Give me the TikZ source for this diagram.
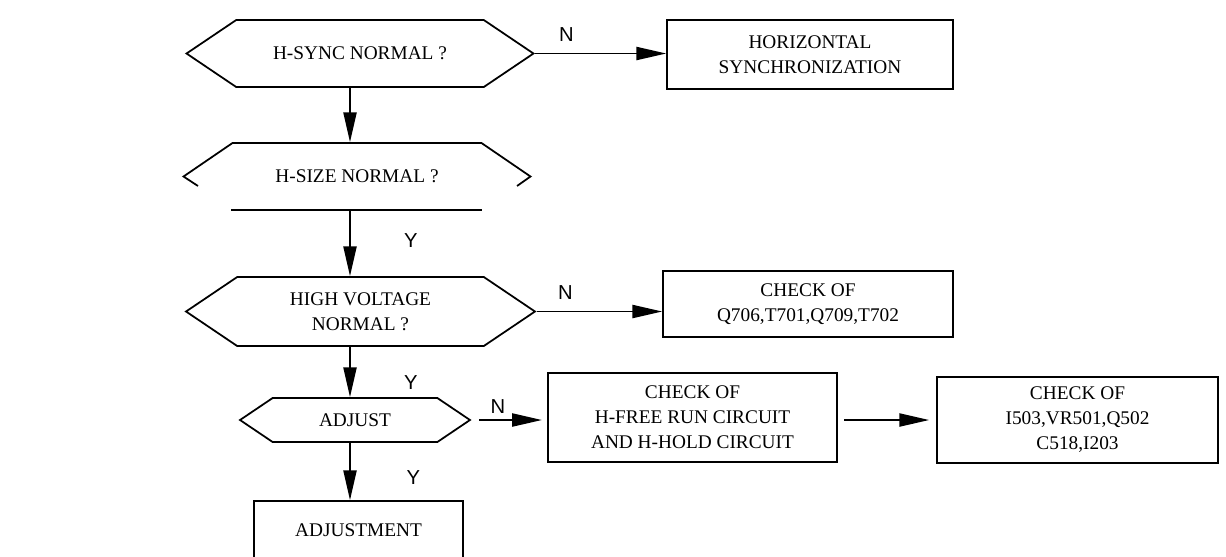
\documentclass[tikz,border=0pt]{standalone}
\usepackage{fontspec}
\setmainfont{Liberation Serif}
\newfontfamily\ynfont{Liberation Sans}
\usetikzlibrary{shapes.symbols, arrows.meta, calc}

\begin{document}
\begin{tikzpicture}[x=0.02cm, y=-0.02cm, >={Triangle[length=17pt, width=7.5pt]},
    query/.style={signal, signal to=east and west, signal pointer angle=68, draw, line width=1pt,
      inner sep=0pt, align=center, font=\fontsize{11}{14.2}\selectfont},
    task/.style={draw, line width=1pt, inner sep=0pt, align=center, font=\fontsize{11}{14.2}\selectfont},
    flow/.style={->, line width=1pt},
    yn/.style={font=\ynfont\fontsize{11.5}{13}\selectfont}]
  \useasboundingbox (0,0) rectangle (1226,556);
  \coordinate (axis) at (350,0);

  \node[query, minimum width=6.94cm, minimum height=1.34cm] (sync) at (360,53.5) {H-SYNC NORMAL ?};
  \node[query, draw=none, minimum width=6.94cm, minimum height=1.34cm] (size) at (357,176.5) {H-SIZE NORMAL ?};
  \node[query, minimum width=6.98cm, minimum height=1.38cm] (hv) at (360.5,311.5) {HIGH VOLTAGE\\NORMAL ?};
  \node[query, minimum width=4.6cm, minimum height=0.88cm] (adj) at (355,420) {ADJUST};

  \node[task, minimum width=5.72cm, minimum height=1.38cm] (hsync) at (810,54.5) {HORIZONTAL\\SYNCHRONIZATION};
  \node[task, minimum width=5.8cm, minimum height=1.32cm] (chk1) at (808,304) {CHECK OF\\Q706,T701,Q709,T702};
  \node[task, minimum width=5.78cm, minimum height=1.78cm] (chk2) at (692.5,417.5) {CHECK OF\\H-FREE RUN CIRCUIT\\AND H-HOLD CIRCUIT};
  \node[task, minimum width=5.62cm, minimum height=1.72cm] (chk3) at (1077.5,420) {CHECK OF\\I503,VR501,Q502\\C518,I203};
  \node[task, minimum width=4.18cm, minimum height=1.16cm] (adjm) at (358.5,530) {ADJUSTMENT};

  % broken outline of the second test
  \draw[line width=1pt] ($(size)+(-159,9.5)$) -- ($(size)+(-173.5,0)$) -- ($(size)+(-124.5,-33.5)$)
    -- ($(size)+(124.5,-33.5)$) -- ($(size)+(173.5,0)$) -- ($(size)+(160,9.5)$);
  \draw[line width=1pt] ($(size)+(-126,33.5)$) -- ($(size)+(125,33.5)$);

  \draw[flow] (sync.east) -- node[yn, pos=0.24, above=3pt] {N} (sync.east -| hsync.west);
  \draw[flow] (sync.south -| axis) -- (size.north -| axis);
  \draw[flow] (size.south -| axis) -- node[yn, pos=0.45, right=0.95cm] {Y} (hv.north -| axis);
  \draw[flow] (hv.east) -- node[yn, pos=0.23, above=3pt] {N} (hv.east -| chk1.west);
  \draw[flow] (hv.south -| axis) -- node[yn, pos=0.7, right=0.95cm] {Y} (adj.north -| axis);
  \draw[flow, shorten <=4.5pt, shorten >=3pt] (adj.east) -- node[yn, pos=0.35, above=0pt] {N} (adj.east -| chk2.west);
  \draw[flow, shorten <=3.5pt, shorten >=4pt] (chk2.east |- chk3.west) -- (chk3.west);
  \draw[flow] (adj.south -| axis) -- node[yn, pos=0.6, right=1.0cm] {Y} (adjm.north -| axis);
\end{tikzpicture}
\end{document}
